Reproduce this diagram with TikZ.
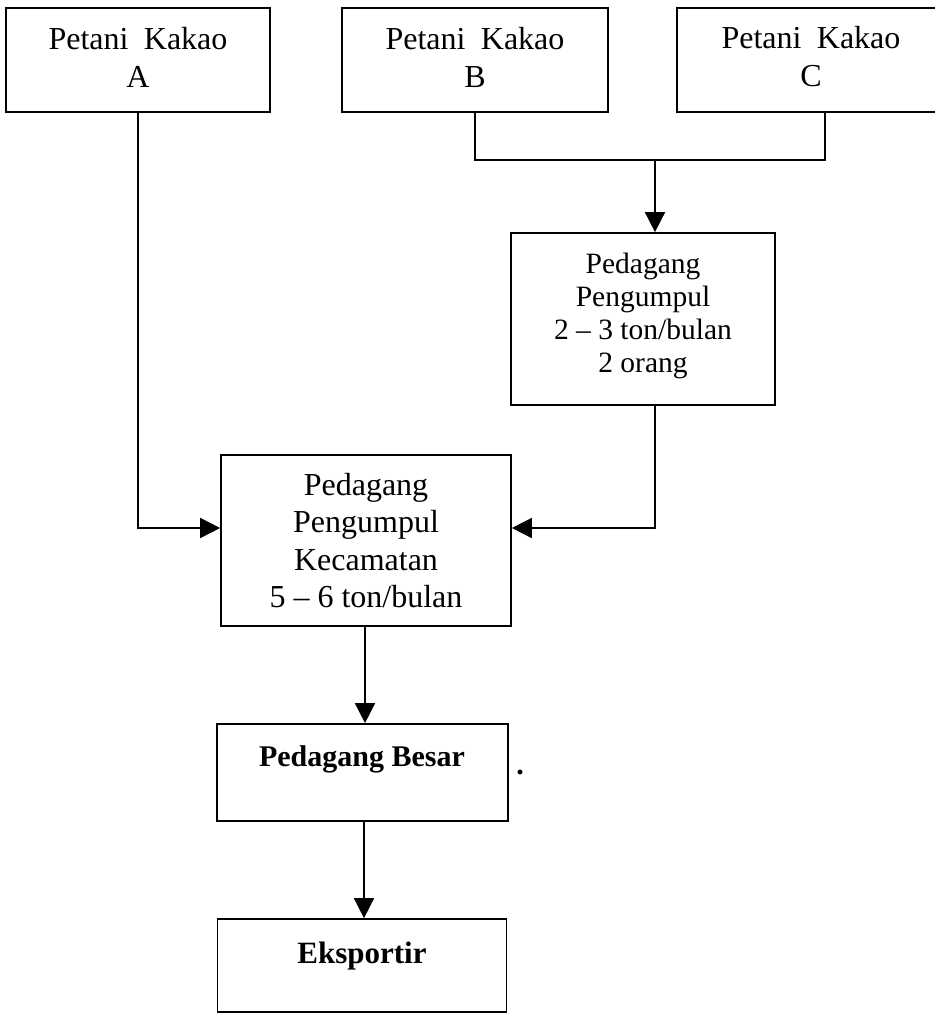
\documentclass[tikz,border=0pt]{standalone}
\usepackage{fontspec}
\setmainfont{Liberation Serif}
\usetikzlibrary{arrows.meta}
\begin{document}
\begin{tikzpicture}[x=1pt,y=-1pt,
  box/.style={draw,line width=1.7pt,rectangle,inner sep=0pt},
  txt/.style={align=center,inner sep=0pt},
  flow/.style={line width=1.6pt},
  arrow/.style={flow,-{Triangle[length=20pt,width=20pt]}}]
\useasboundingbox (0,0) rectangle (935,1013);
\clip (0,0) rectangle (935,1013);

% farmers
\node[box,minimum width=264pt,minimum height=104pt] (a) at (138,60) {};
\node[box,minimum width=266pt,minimum height=104pt] (b) at (475,60) {};
\node[box,minimum width=268pt,minimum height=104pt] (c) at (811,60) {};
\tikzset{farmer/.style={txt,font=\fontsize{32pt}{38pt}\selectfont}}
\node[farmer] (at) at (138,57) {Petani\hspace{0.48em}Kakao\\A};
\node[farmer] (bt) at (475,57) {Petani\hspace{0.48em}Kakao\\B};
\node[farmer] (ct) at (811,57) {Petani\hspace{0.48em}Kakao\\C};

% village collector
\node[box,minimum width=264pt,minimum height=172pt] (pp) at (643,319) {};
\node[txt,font=\fontsize{29.5pt}{33pt}\selectfont] (ppt) at (643,316) {Pedagang\\Pengumpul\\2 -- 3 ton/bulan\\2 orang};

% district collector
\node[box,minimum width=290pt,minimum height=171pt] (kec) at (366,540.5) {};
\node[txt,font=\fontsize{32pt}{37.3pt}\selectfont] (kect) at (366,540.5) {Pedagang\\Pengumpul\\Kecamatan\\5 -- 6 ton/bulan};

% wholesaler
\node[box,minimum width=291pt,minimum height=97pt] (besar) at (362.5,772.5) {};
\node[txt,font=\bfseries\fontsize{30pt}{34pt}\selectfont] (besart) at (362,759) {Pedagang Besar};
\node[inner sep=0pt,font=\bfseries\fontsize{30pt}{34pt}\selectfont] (dot) at (520,772) {.};

% exporter
\node[box,minimum width=289pt,minimum height=93pt] (eks) at (362,965.5) {};
\node[txt,font=\bfseries\fontsize{31pt}{34pt}\selectfont] (ekst) at (362,956) {Eksportir};

% connectors
\coordinate (j) at (655,160);
\draw[flow] (b.south) |- (j);
\draw[flow] ([xshift=14pt]c.south) |- (j);
\draw[arrow] (j) -- (pp.north -| j);
\draw[arrow] (a.south) |- ([yshift=12.5pt]kec.west);
\draw[arrow] (pp.south -| j) |- ([yshift=12.5pt]kec.east);
\draw[arrow] ([xshift=-1pt]kec.south) -- ([xshift=-1pt]kec.south |- besar.north);
\draw[arrow] ([xshift=1.5pt]besar.south) -- ([xshift=1.5pt]besar.south |- eks.north);
\end{tikzpicture}
\end{document}
